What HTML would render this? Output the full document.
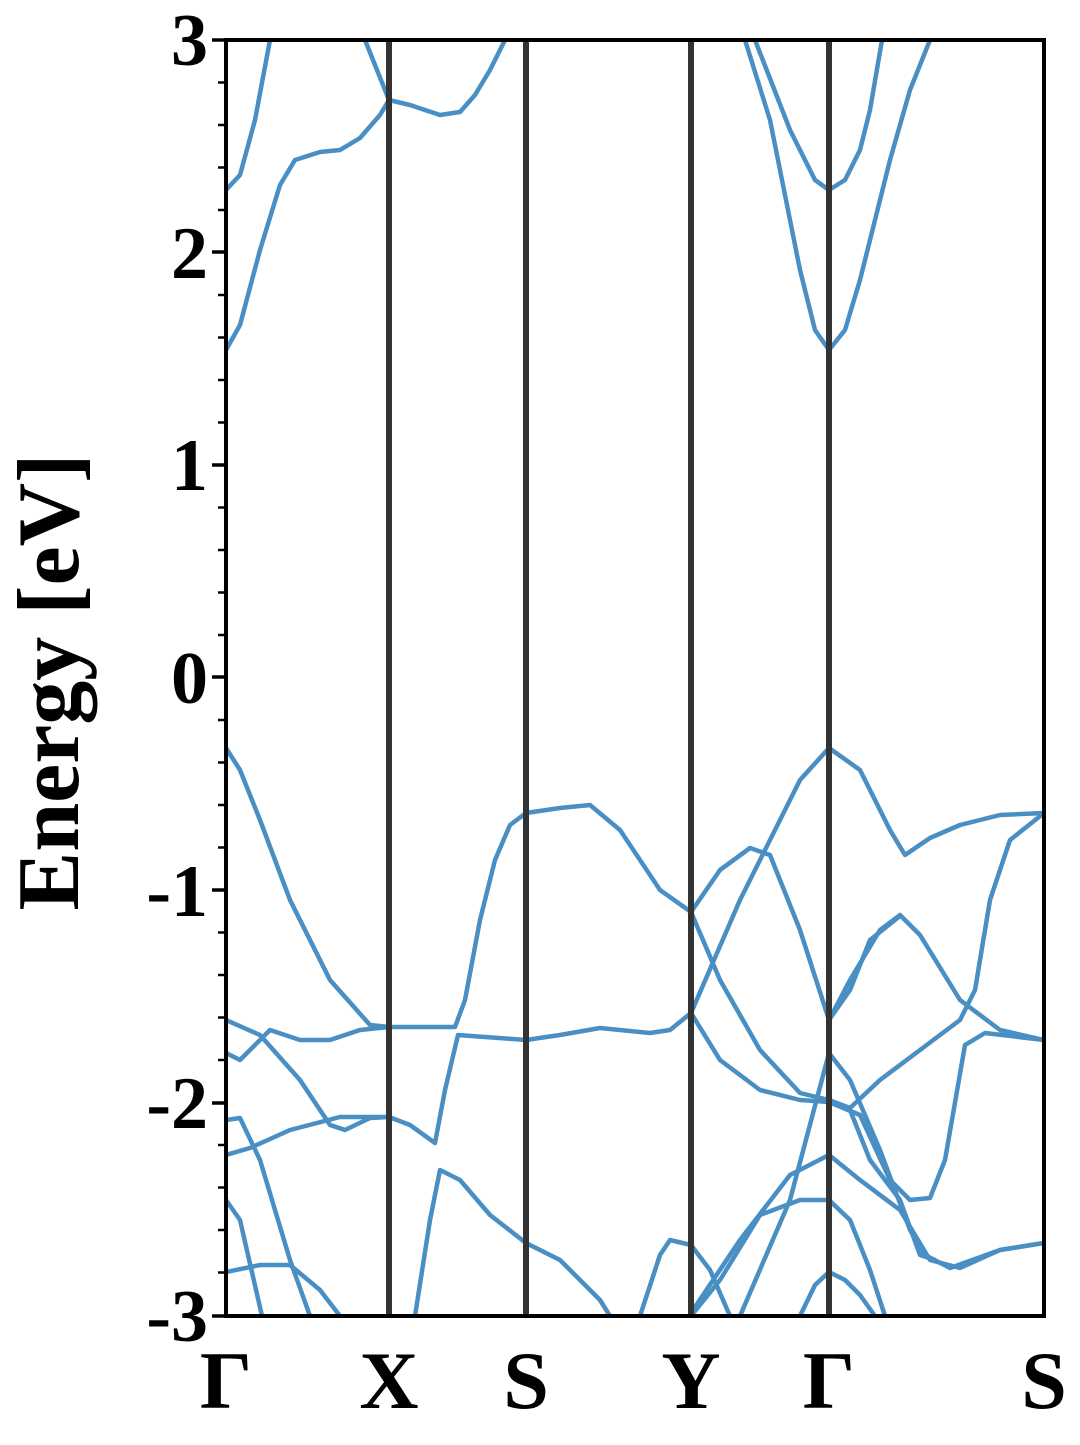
<!DOCTYPE html>
<html><head><style>body{margin:0;background:#fff} text{font-family:"Liberation Serif","Times New Roman",serif;font-weight:bold}</style></head><body>
<svg width="1080" height="1440" xmlns="http://www.w3.org/2000/svg">
<defs><clipPath id="c"><rect x="226" y="40" width="818" height="1276"/></clipPath></defs>
<g clip-path="url(#c)" fill="none" stroke="#4a8fc4" stroke-width="4.5" stroke-linejoin="round">
<polyline points="226,350 240,325 260,250 280,185 295,160 320,152 340,150 360,138 380,115 389,100 410,105 440,115 460,112 475,95 490,70 505,40"/>
<polyline points="226,190 240,175 255,120 270,40"/>
<polyline points="365,40 375,65 389,100"/>
<polyline points="226,748 240,770 260,820 290,900 330,980 370,1025 389,1027 455,1027 465,1000 480,920 495,860 510,825 526,813 560,808 590,805 620,830 660,890 691,912 720,870 750,848 770,855 800,930 829,1020 850,980 880,930 900,915 920,935 960,1000 1000,1030 1044,1040"/>
<polyline points="226,1020 260,1035 300,1080 330,1125 345,1130 370,1118 389,1117 410,1125 435,1143 445,1090 458,1035 526,1040 560,1035 600,1028 650,1033 670,1030 691,1013 740,900 770,840 800,780 829,748 860,770 890,830 905,855 930,838 960,825 1000,815 1044,813"/>
<polyline points="226,1053 240,1060 270,1030 300,1040 330,1040 360,1030 389,1027"/>
<polyline points="226,1155 250,1148 290,1130 340,1117 389,1117"/>
<polyline points="226,1120 240,1118 260,1160 290,1260 310,1316"/>
<polyline points="226,1200 240,1220 262,1316"/>
<polyline points="226,1272 260,1265 290,1265 320,1290 340,1316"/>
<polyline points="415,1316 430,1220 440,1170 460,1180 490,1215 526,1243 560,1260 600,1300 610,1316"/>
<polyline points="640,1316 660,1255 670,1240 691,1245 710,1270 730,1316"/>
<polyline points="691,1316 720,1280 760,1215 800,1200 829,1200 850,1220 870,1270 885,1316"/>
<polyline points="691,1313 740,1240 790,1175 829,1155 860,1180 900,1210 930,1260 960,1268 1000,1250 1044,1243"/>
<polyline points="691,1013 720,1060 760,1090 800,1100 829,1102 850,1110 870,1160 900,1200 920,1255 935,1260"/>
<polyline points="691,912 720,980 760,1050 800,1093 829,1100 850,1108 880,1080 920,1050 960,1020 975,990 990,900 1010,840 1044,813"/>
<polyline points="829,1020 850,990 870,940 900,916"/>
<polyline points="829,1102 860,1115 890,1180 910,1200 930,1198 945,1160 965,1045 985,1033 1044,1040"/>
<polyline points="740,1316 790,1200 829,1053 850,1080 880,1150 910,1230 925,1255 950,1268 1000,1250 1044,1243"/>
<polyline points="800,1316 815,1285 829,1272 845,1280 860,1295 875,1316"/>
<polyline points="745,40 770,120 800,270 815,330 829,350 845,330 860,280 890,160 910,90 930,40"/>
<polyline points="755,40 790,130 815,180 829,190 845,180 860,150 870,110 882,40"/>
</g>
<g stroke="#333" stroke-width="6">
<line x1="389" y1="40" x2="389" y2="1316"/><line x1="526" y1="40" x2="526" y2="1316"/>
<line x1="691" y1="40" x2="691" y2="1316"/><line x1="829" y1="40" x2="829" y2="1316"/>
</g>
<rect x="226" y="40" width="818" height="1276" fill="none" stroke="#000" stroke-width="4"/>
<g stroke="#000" stroke-width="2.5">
<path d="M218 82.5H226M218 125H226M218 167.5H226M218 210H226M218 295H226M218 337.5H226M218 380H226M218 422.5H226M218 507.5H226M218 550H226M218 592.5H226M218 635H226M218 720H226M218 762.5H226M218 805H226M218 847.5H226M218 932.5H226M218 975H226M218 1017.5H226M218 1060H226M218 1145H226M218 1187.5H226M218 1230H226M218 1272.5H226"/>
</g>
<g stroke="#000" stroke-width="3.5"><path d="M212 40H226M212 252H226M212 465H226M212 677H226M212 890H226M212 1103H226M212 1316H226"/></g>
<g font-size="74" text-anchor="end">
<text x="208" y="65">3</text><text x="208" y="278">2</text><text x="208" y="490">1</text><text x="208" y="703">0</text>
<text x="208" y="916">-1</text><text x="208" y="1128">-2</text><text x="208" y="1341">-3</text>
</g>
<g font-size="82" text-anchor="middle">
<text x="226" y="1408">Γ</text><text x="389" y="1408">X</text><text x="526" y="1408">S</text>
<text x="691" y="1408">Y</text><text x="829" y="1408">Γ</text><text x="1044" y="1408">S</text>
</g>
<text transform="translate(78,682) rotate(-90)" font-size="88" text-anchor="middle">Energy [eV]</text>
</svg>
</body></html>
